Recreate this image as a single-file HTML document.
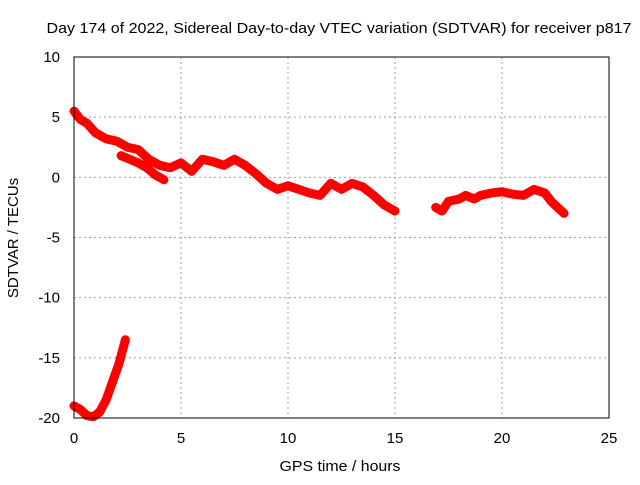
<!DOCTYPE html>
<html><head><meta charset="utf-8"><style>
body{margin:0;background:#fff}
svg text{font-family:"Liberation Sans",sans-serif;font-size:15px;fill:#000}
</style></head><body>
<svg id="chart" width="640" height="480">
<text x="339" y="33" text-anchor="middle" textLength="585" lengthAdjust="spacingAndGlyphs">Day 174 of 2022, Sidereal Day-to-day VTEC variation (SDTVAR) for receiver p817</text>
<g id="grid"></g><g id="axes"></g><g id="series"></g>
<rect x="74" y="57" width="535" height="361" fill="none" stroke="#000"/>
<text x="340" y="471" text-anchor="middle" textLength="121" lengthAdjust="spacingAndGlyphs">GPS time / hours</text>
<text transform="translate(18,238) rotate(-90)" text-anchor="middle">SDTVAR / TECUs</text>
</svg>
<script>
const xTicks=[0,5,10,15,20,25];
const yTicks=[10,5,0,-5,-10,-15,-20];
const seg1T=[0,0.3,0.6,1,1.5,2,2.5,3,3.5,4,4.5,5,5.5,6,6.5,7,7.5,8,8.5,9,9.5,10,10.5,11,11.5,12,12.5,13,13.5,14,14.5,15];
const seg1V=[5.5,4.8,4.5,3.7,3.2,3.0,2.5,2.3,1.5,1.0,0.8,1.2,0.5,1.5,1.3,1.0,1.5,1.0,0.3,-0.5,-1.0,-0.7,-1.0,-1.3,-1.5,-0.5,-1.0,-0.5,-0.8,-1.5,-2.3,-2.8];
const seg4T=[2.2,2.6,3.0,3.4,3.8,4.2];
const seg4V=[1.8,1.5,1.2,0.8,0.2,-0.2];
const seg2T=[0,0.3,0.6,0.9,1.2,1.5,1.8,2.1,2.4];
const seg2V=[-19,-19.3,-19.8,-19.9,-19.5,-18.5,-17,-15.5,-13.5];
const seg3T=[16.9,17.2,17.5,18,18.3,18.7,19,19.5,20,20.5,21,21.5,22,22.3,22.6,22.9];
const seg3V=[-2.5,-2.8,-2.0,-1.8,-1.5,-1.8,-1.5,-1.3,-1.2,-1.4,-1.5,-1.0,-1.3,-2.0,-2.5,-3.0];
const X=t=>74+t*535/25, Y=v=>418-(v+20)*361/30;
const NS="http://www.w3.org/2000/svg";
function mk(tag,attrs,parent){const e=document.createElementNS(NS,tag);for(const k in attrs)e.setAttribute(k,attrs[k]);document.getElementById(parent).appendChild(e);return e;}
xTicks.forEach(t=>{
 if(t>0&&t<25){const g=mk('line',{x1:X(t),x2:X(t),y1:57,y2:418,stroke:'#a0a0a0','stroke-dasharray':'2,3'},'grid');
 
 }
 const l=mk('text',{x:X(t),y:443,'text-anchor':'middle'},'axes');l.textContent=t;
 
 
});
yTicks.forEach(v=>{
 if(v>-20&&v<10){const g=mk('line',{x1:74,x2:609,y1:Y(v),y2:Y(v),stroke:'#a0a0a0','stroke-dasharray':'2,3'},'grid');
 
 }
 const l=mk('text',{x:60,y:Y(v)+5,'text-anchor':'end'},'axes');l.textContent=v;
 
 
});
[[seg1T,seg1V],[seg4T,seg4V],[seg2T,seg2V],[seg3T,seg3V]].forEach(([T,V],i)=>{
 const p=mk('polyline',{points:T.map((t,j)=>X(t)+','+Y(V[j])).join(' '),fill:'none',stroke:'#f00','stroke-width':9,'stroke-linejoin':'round','stroke-linecap':'round'},'series');
 
 
});
</script>
</body></html>
